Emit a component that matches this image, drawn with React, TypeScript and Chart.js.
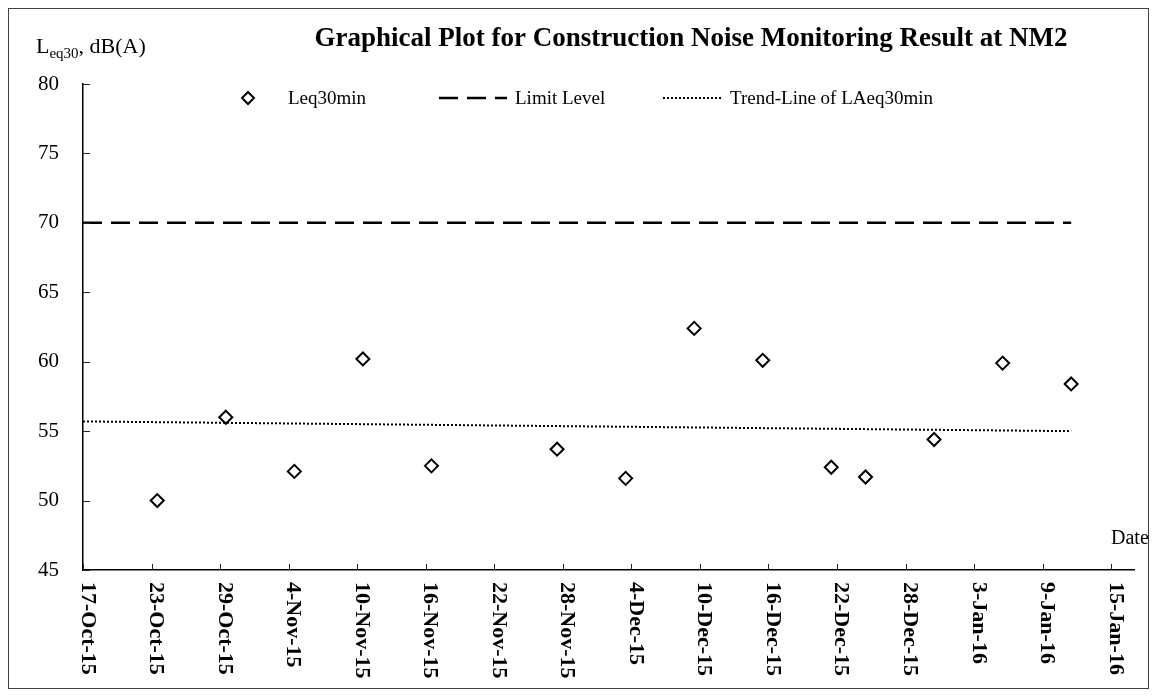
import React, { useEffect, useRef } from "react";
import { Chart, registerables } from "chart.js";

Chart.register(...registerables);

// ---- data ----
const AXIS_START_DATE = "2015-10-17T00:00";
const AXIS_END_DATE = "2016-01-17T00:00";
const X_TICK_STEP_DAYS = 6;
const Y_MIN = 45;
const Y_MAX = 80;
const Y_STEP = 5;

const sampleDates = [
  "2015-10-23T12:00",
  "2015-10-29T12:00",
  "2015-11-04T12:00",
  "2015-11-10T12:00",
  "2015-11-16T12:00",
  "2015-11-27T12:00",
  "2015-12-03T12:00",
  "2015-12-09T12:00",
  "2015-12-15T12:00",
  "2015-12-21T12:00",
  "2015-12-24T12:00",
  "2015-12-30T12:00",
  "2016-01-05T12:00",
  "2016-01-11T12:00",
];
const leqValues = [50.0, 56.0, 52.1, 60.2, 52.5, 53.7, 51.6, 62.4, 60.1, 52.4, 51.7, 54.4, 59.9, 58.4];

const limitDates = ["2015-10-17T00:00", "2016-01-11T12:00"];
const limitValues = [70, 70];

const trendDates = ["2015-10-17T00:00", "2016-01-11T12:00"];
const trendValues = [55.7, 55.0];

const MONTHS = ["Jan", "Feb", "Mar", "Apr", "May", "Jun", "Jul", "Aug", "Sep", "Oct", "Nov", "Dec"];

const TITLE = "Graphical Plot for Construction Noise Monitoring Result at NM2";
const LEGEND_LABELS = ["Leq30min", "Limit Level", "Trend-Line of LAeq30min"];

const DAY_MS = 86400000;
const toMs = (s: string) => Date.parse(s + "Z");
const baseMs = toMs(AXIS_START_DATE);
const toDays = (s: string) => (toMs(s) - baseMs) / DAY_MS;

const fmtDay = (v: number) => {
  const d = new Date(baseMs + v * DAY_MS);
  return `${d.getUTCDate()}-${MONTHS[d.getUTCMonth()]}-${String(d.getUTCFullYear()).slice(2)}`;
};

const SERIF = "'Liberation Serif', 'Times New Roman', serif";

const decorPlugin = {
  id: "decor",
  afterDraw(chart: any) {
    const { ctx, chartArea } = chart;
    const xs = chart.scales.x;
    const ys = chart.scales.y;
    ctx.save();

    // outer frame
    ctx.strokeStyle = "#404040";
    ctx.lineWidth = 1;
    ctx.setLineDash([]);
    ctx.strokeRect(0.5, 0.5, chart.width - 1, chart.height - 1);

    // inward tick marks
    ctx.strokeStyle = "#222";
    ctx.lineWidth = 1;
    ctx.beginPath();
    xs.ticks.forEach((t: any) => {
      const px = Math.round(xs.getPixelForValue(t.value)) + 0.5;
      ctx.moveTo(px, chartArea.bottom);
      ctx.lineTo(px, chartArea.bottom - 6);
    });
    ys.ticks.forEach((t: any) => {
      const py = Math.round(ys.getPixelForValue(t.value)) + 0.5;
      ctx.moveTo(chartArea.left, py);
      ctx.lineTo(chartArea.left + 7, py);
    });
    ctx.stroke();

    ctx.fillStyle = "#000";

    // y tick labels
    ctx.font = `21px ${SERIF}`;
    ctx.textAlign = "right";
    ctx.textBaseline = "middle";
    ys.ticks.forEach((t: any) => {
      ctx.fillText(String(t.value), chartArea.left - 24, ys.getPixelForValue(t.value));
    });

    // x tick labels, rotated clockwise
    ctx.font = `bold 22px ${SERIF}`;
    ctx.textAlign = "left";
    ctx.textBaseline = "alphabetic";
    xs.ticks.forEach((t: any) => {
      ctx.save();
      ctx.translate(xs.getPixelForValue(t.value), chartArea.bottom + 12);
      ctx.rotate(Math.PI / 2);
      ctx.fillText(fmtDay(t.value), 0, 1.5);
      ctx.restore();
    });

    // title
    ctx.font = `bold 27px ${SERIF}`;
    ctx.textAlign = "center";
    ctx.fillText(TITLE, 683, 38);

    // y axis title with subscript
    ctx.textAlign = "left";
    let tx = 28;
    const ty = 45;
    ctx.font = `22px ${SERIF}`;
    ctx.fillText("L", tx, ty);
    tx += ctx.measureText("L").width;
    ctx.font = `15px ${SERIF}`;
    ctx.fillText("eq30", tx, ty + 5);
    tx += ctx.measureText("eq30").width;
    ctx.font = `22px ${SERIF}`;
    ctx.fillText(", dB(A)", tx, ty);

    // x axis title
    ctx.font = `20px ${SERIF}`;
    ctx.fillText("Date", 1103, 536);

    // legend
    const ly = 90;
    ctx.strokeStyle = "#000";
    ctx.lineWidth = 2;
    ctx.setLineDash([]);
    ctx.beginPath();
    const cx = 240;
    ctx.moveTo(cx, ly - 6);
    ctx.lineTo(cx + 6, ly);
    ctx.lineTo(cx, ly + 6);
    ctx.lineTo(cx - 6, ly);
    ctx.closePath();
    ctx.stroke();

    ctx.lineWidth = 2.5;
    ctx.setLineDash([19, 9]);
    ctx.beginPath();
    ctx.moveTo(431, ly);
    ctx.lineTo(499, ly);
    ctx.stroke();

    ctx.lineWidth = 2;
    ctx.setLineDash([2, 2]);
    ctx.beginPath();
    ctx.moveTo(655, ly);
    ctx.lineTo(715, ly);
    ctx.stroke();
    ctx.setLineDash([]);

    ctx.font = `19px ${SERIF}`;
    ctx.fillText(LEGEND_LABELS[0], 280, 96);
    ctx.fillText(LEGEND_LABELS[1], 507, 96);
    ctx.fillText(LEGEND_LABELS[2], 722, 96);

    ctx.restore();
  },
};

export default function App() {
  const canvasRef = useRef<HTMLCanvasElement | null>(null);

  useEffect(() => {
    const canvas = canvasRef.current;
    if (!canvas) return;

    const leqPoints = sampleDates.map((d, i) => ({ x: toDays(d), y: leqValues[i] }));
    const limitPoints = limitDates.map((d, i) => ({ x: toDays(d), y: limitValues[i] }));
    const trendPoints = trendDates.map((d, i) => ({ x: toDays(d), y: trendValues[i] }));

    const chart = new Chart(canvas, {
      type: "scatter",
      data: {
        datasets: [
          {
            label: LEGEND_LABELS[0],
            data: leqPoints,
            showLine: false,
            pointStyle: "rectRot",
            pointRadius: 6.5,
            pointBorderWidth: 2,
            borderColor: "#000",
            backgroundColor: "#fff",
            order: 0,
          },
          {
            label: LEGEND_LABELS[1],
            data: limitPoints,
            showLine: true,
            borderColor: "#000",
            borderWidth: 2.5,
            borderDash: [19, 9],
            pointRadius: 0,
            fill: false,
            order: 1,
          },
          {
            label: LEGEND_LABELS[2],
            data: trendPoints,
            showLine: true,
            borderColor: "#000",
            borderWidth: 2,
            borderDash: [2, 2],
            pointRadius: 0,
            fill: false,
            order: 2,
          },
        ],
      },
      options: {
        responsive: false,
        animation: false,
        devicePixelRatio: 1,
        layout: { padding: { left: 75, top: 76, right: 15, bottom: 119 } },
        plugins: {
          legend: { display: false },
          tooltip: { enabled: false },
          title: { display: false },
        },
        events: [],
        scales: {
          x: {
            type: "linear",
            min: 0,
            max: toDays(AXIS_END_DATE),
            ticks: { display: false, stepSize: X_TICK_STEP_DAYS, includeBounds: false },
            grid: { display: false },
            border: { display: true, color: "#000", width: 1.5 },
            afterFit: (s: any) => {
              s.height = 0;
            },
          },
          y: {
            type: "linear",
            min: Y_MIN,
            max: Y_MAX,
            ticks: { display: false, stepSize: Y_STEP },
            grid: { display: false },
            border: { display: true, color: "#000", width: 1.5 },
            afterFit: (s: any) => {
              s.width = 0;
            },
          },
        },
      },
      plugins: [decorPlugin],
    } as any);

    return () => chart.destroy();
  }, []);

  return (
    <div style={{ width: 1141, height: 681, background: "#fff" }}>
      <canvas ref={canvasRef} width={1141} height={681} style={{ display: "block" }} />
    </div>
  );
}
